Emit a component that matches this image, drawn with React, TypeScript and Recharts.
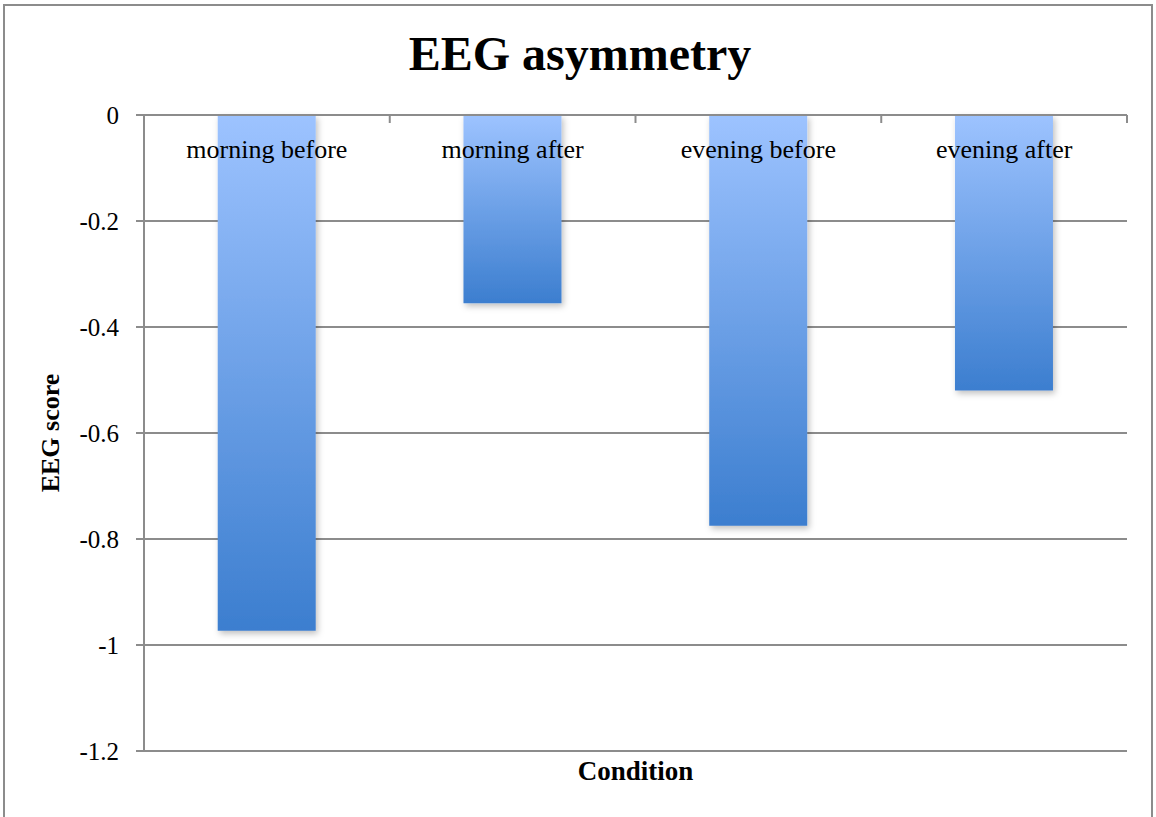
import React from "react";
import { BarChart, Bar, XAxis, YAxis, CartesianGrid } from "recharts";

const conditions = ["morning before", "morning after", "evening before", "evening after"];
const eegScores = [-0.973, -0.355, -0.775, -0.52];
const yTicks = [0, -0.2, -0.4, -0.6, -0.8, -1, -1.2];

const data = conditions.map((name, i) => ({ name, score: eegScores[i] }));

const FONT = "'Liberation Serif', 'DejaVu Serif', serif";
const AXIS = "#8c8c8c";

const TopTick = (props: any) => {
  const { x, y, payload, index } = props;
  const half = payload && payload.offset ? payload.offset : 0;
  return (
    <g>
      {half > 0 && index > 0 && (
        <line x1={x - half} y1={y} x2={x - half} y2={y + 8} stroke={AXIS} strokeWidth={2} />
      )}
      {half > 0 && index === conditions.length - 1 && (
        <line x1={x + half} y1={y} x2={x + half} y2={y + 8} stroke={AXIS} strokeWidth={2} />
      )}
      <text x={x} y={y + 43} textAnchor="middle" fontFamily={FONT} fontSize={26} fill="#000">
        {payload.value}
      </text>
    </g>
  );
};

export default function App() {
  return (
    <div style={{ position: "absolute", left: 0, top: 0, width: 1156, height: 817, background: "#fff", overflow: "hidden" }}>
      <div
        style={{
          position: "absolute",
          left: 3,
          top: 4,
          width: 1150,
          height: 840,
          border: "2px solid #8c8c8c",
          boxSizing: "border-box",
        }}
      />
      <div
        style={{
          position: "absolute",
          left: 0,
          top: 26,
          width: 1160,
          textAlign: "center",
          fontFamily: FONT,
          fontWeight: "bold",
          fontSize: 48,
          color: "#000",
        }}
      >
        EEG asymmetry
      </div>
      <div style={{ position: "absolute", left: 0, top: 0 }}>
        <BarChart
          width={1156}
          height={817}
          data={data}
          margin={{ top: 85, right: 29, bottom: 0, left: 44 }}
          barCategoryGap="30%"
        >
          <defs>
            <linearGradient id="barFill" x1="0" y1="0" x2="0" y2="1">
              <stop offset="0%" stopColor="#9dc3ff" />
              <stop offset="100%" stopColor="#3c7ecf" />
            </linearGradient>
            <filter id="barShadow" x="-20%" y="-20%" width="140%" height="140%">
              <feDropShadow dx="2" dy="3" stdDeviation="3" floodColor="#000" floodOpacity="0.25" />
            </filter>
          </defs>
          <CartesianGrid vertical={false} stroke={AXIS} strokeWidth={2} strokeOpacity={1} />
          <XAxis
            dataKey="name"
            orientation="top"
            height={30}
            axisLine={{ stroke: AXIS, strokeWidth: 2 }}
            tickLine={false}
            tickSize={0}
            tickMargin={0}
            interval={0}
            tick={<TopTick />}
          />
          <XAxis
            xAxisId="bottom"
            dataKey="name"
            orientation="bottom"
            height={66}
            axisLine={false}
            tickLine={false}
            tick={false}
            label={{
              value: "Condition",
              position: "insideTop",
              offset: 10,
              fontFamily: FONT,
              fontWeight: "bold",
              fontSize: 27,
              fill: "#000",
            }}
          />
          <YAxis
            type="number"
            domain={[-1.2, 0]}
            ticks={yTicks}
            width={100}
            axisLine={{ stroke: AXIS, strokeWidth: 2 }}
            tickLine={{ stroke: AXIS, strokeWidth: 2 }}
            tickSize={8}
            tickMargin={17}
            tick={{ fontFamily: FONT, fontSize: 25, fill: "#000" }}
            label={{
              value: "EEG score",
              angle: -90,
              position: "insideLeft",
              offset: 6,
              style: { textAnchor: "middle" },
              fontFamily: FONT,
              fontWeight: "bold",
              fontSize: 26,
              fill: "#000",
            }}
          />
          <Bar
            dataKey="score"
            fill="url(#barFill)"
            filter="url(#barShadow)"
            isAnimationActive={false}
          />
        </BarChart>
      </div>
    </div>
  );
}
